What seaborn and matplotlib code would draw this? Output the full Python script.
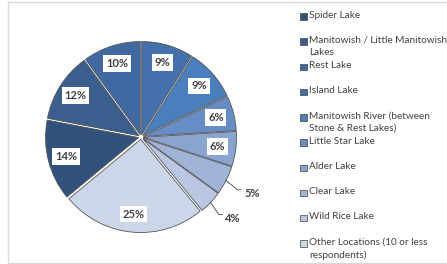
import numpy as np
import pandas as pd
import matplotlib
matplotlib.use('Agg')
import matplotlib.pyplot as plt
from matplotlib.patches import Rectangle
import seaborn as sns

# data
locations = ['Spider Lake',
             'Manitowish / Little Manitowish\nLakes',
             'Rest Lake',
             'Island Lake',
             'Manitowish River (between\nStone & Rest Lakes)',
             'Little Star Lake',
             'Alder Lake',
             'Clear Lake',
             'Wild Rice Lake',
             'Other Locations (10 or less\nrespondents)']
shares = [14, 12, 10, 9, 9, 6, 6, 5, 4, 25]
colors = ['#31527c', '#3a5e8d', '#3f69a0', '#4471ab', '#4a7ebd',
          '#678dc6', '#89a4d0', '#a0b4d8', '#b9c7e2', '#ccd6e9']

df = pd.DataFrame({'location': locations, 'share': shares, 'color': colors})

sns.set_theme(style='white')
plt.rcParams['font.family'] = ['Lato', 'DejaVu Sans']

fig = plt.figure(figsize=(4.47, 2.64), dpi=100)
W, H = 447, 264

# frame around the chart
fig.patches.append(Rectangle((8 / W, 1.5 / H), 1.2, 260.5 / H, transform=fig.transFigure,
                             fill=False, edgecolor='#d9d9d9', lw=1.0))

cx, cy, r = 141, 137, 96
ax = fig.add_axes([(cx - r) / W, (H - cy - r) / H, 2 * r / W, 2 * r / H])

start = 90 - 360 * (1 - sum(shares[:3]) / 100)
wedges, _ = ax.pie(df['share'], colors=df['color'], startangle=start, counterclock=False,
                   explode=[0.025] * len(shares),
                   wedgeprops=dict(edgecolor='#555555', linewidth=0.6))
ax.set_xlim(-1.03, 1.03)
ax.set_ylim(-1.03, 1.03)
ax.axis('off')

for w, val in zip(wedges, df['share']):
    ang = np.deg2rad((w.theta1 + w.theta2) / 2)
    txt = f'{val}%'
    if val >= 6:
        ax.text(0.83 * np.cos(ang), 0.83 * np.sin(ang), txt, ha='center', va='center',
                fontsize=8, fontweight='bold', color='#404040',
                bbox=dict(boxstyle='square,pad=0.25', fc='white', ec='none'))
    else:
        x0, y0 = 1.02 * np.cos(ang), 1.02 * np.sin(ang)
        x1, y1 = 1.18 * np.cos(ang - 0.03), 1.18 * np.sin(ang - 0.03)
        ax.plot([x0, x1, x1 + 0.04], [y0, y1, y1], color='#404040', lw=0.6, clip_on=False)
        ax.text(x1 + 0.07, y1 - 0.04, txt, ha='left', va='center',
                fontsize=8, fontweight='bold', color='#404040')

# legend, evenly spaced like the original
for i, (name, col) in enumerate(zip(df['location'], df['color'])):
    y = 16.5 + 25.2 * i
    fig.patches.append(Rectangle((300 / W, (H - y - 3.3) / H), 6.5 / W, 6.5 / H,
                                 transform=fig.transFigure, facecolor=col,
                                 edgecolor='#404040', lw=0.5))
    fig.text(309 / W, (H - y + 5.8) / H, name, ha='left', va='top', fontsize=7.2,
             color='#404040', linespacing=1.5)

fig.savefig('out.png', dpi=100)
